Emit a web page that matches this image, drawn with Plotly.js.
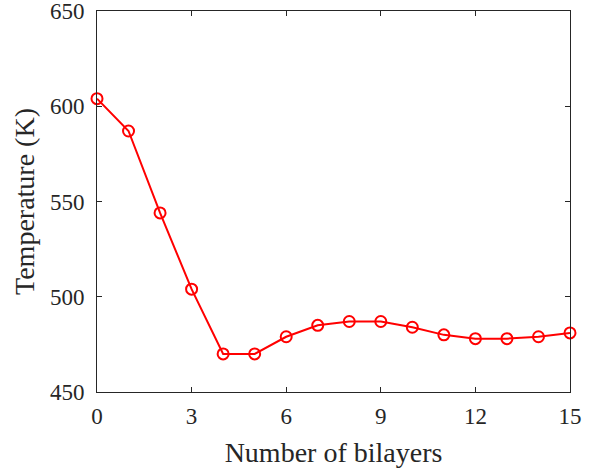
<!DOCTYPE html>
<html>
<head>
<meta charset="utf-8">
<script src="https://cdn.plot.ly/plotly-3.0.1.min.js"></script>
<style>html,body{margin:0;padding:0;background:#fff;}#chart{width:605px;height:472px;}</style>
</head>
<body>
<div id="chart"></div>
<script>
const bilayers = [0,1,2,3,4,5,6,7,8,9,10,11,12,13,14,15];
const temperature = [604,587,544,504,470,470,479,485,487,487,484,480,478,478,479,481];
const xTicks = [0,3,6,9,12,15];
const yTicks = [450,500,550,600,650];
const xLabel = "Number of bilayers";
const yLabel = "Temperature (K)";

const fam = "Liberation Serif, Times New Roman, serif";
const tickFont = {family: fam, size: 23, color: "#262626"};
const titleFont = {family: fam, size: 28, color: "#262626"};
const axisCommon = {
  showgrid: false, zeroline: false, showline: true, mirror: "ticks",
  linecolor: "#262626", linewidth: 1, ticks: "inside", ticklen: 5, tickcolor: "#262626",
  tickfont: tickFont, ticklabeloverflow: "allow", automargin: false
};
Plotly.newPlot("chart", [{
  x: bilayers, y: temperature, type: "scatter", mode: "lines+markers",
  line: {color: "#ff0000", width: 2},
  marker: {symbol: "circle-open", size: 11, color: "#ff0000", line: {width: 2}},
  cliponaxis: false
}], {
  width: 605, height: 472,
  margin: {l: 97, r: 35, t: 11, b: 80},
  paper_bgcolor: "#fff", plot_bgcolor: "#fff",
  showlegend: false,
  font: tickFont,
  xaxis: Object.assign({}, axisCommon, {range: [0,15], tickvals: xTicks, ticklabelstandoff: 3, title: {text: xLabel, font: titleFont, standoff: 14}}),
  yaxis: Object.assign({}, axisCommon, {range: [450,650], tickvals: yTicks, ticklabelstandoff: 7, title: {text: yLabel, font: titleFont, standoff: 7}})
}, {staticPlot: true});
</script>
</body>
</html>
